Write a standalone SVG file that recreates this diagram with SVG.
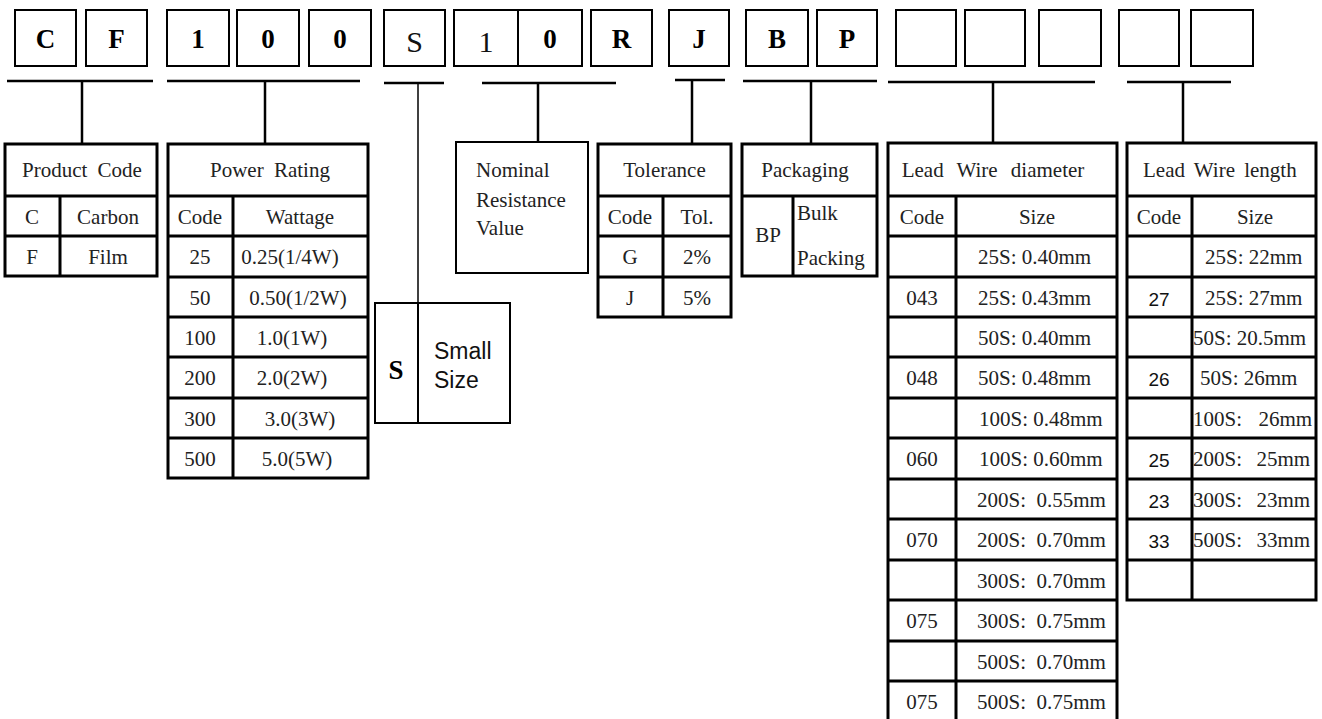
<svg xmlns="http://www.w3.org/2000/svg" width="1322" height="719" viewBox="0 0 1322 719">
<style>
.box{fill:#fff;stroke:#000;stroke-width:2}
.tb{fill:#fff;stroke:#000;stroke-width:3}
.ln{stroke:#000;stroke-width:3;fill:none}
.cn{stroke:#000;stroke-width:2.5;fill:none}
.big{font-family:"Liberation Serif",serif;font-size:27px;font-weight:bold;text-anchor:middle;fill:#000}
.bign{font-family:"Liberation Serif",serif;font-size:30px;text-anchor:middle;fill:#111}
.t{font-family:"Liberation Serif",serif;font-size:21px;fill:#222;white-space:pre}
.c{text-anchor:middle}
.s{font-family:"Liberation Sans",sans-serif;font-size:19px;fill:#111;text-anchor:middle}
.sm{font-family:"Liberation Sans",sans-serif;font-size:23px;fill:#111}
</style>
<rect width="1322" height="719" fill="#fff"/>

<g id="code-boxes">
  <g id="box-C"><rect class="box" x="15" y="10" width="61" height="56"/><text class="big" x="45.5" y="48">C</text></g>
  <g id="box-F"><rect class="box" x="86" y="10" width="61" height="56"/><text class="big" x="116.5" y="48">F</text></g>
  <g id="box-1"><rect class="box" x="167" y="10" width="62" height="56"/><text class="big" x="198" y="48">1</text></g>
  <g id="box-0a"><rect class="box" x="237" y="10" width="62" height="56"/><text class="big" x="268" y="48">0</text></g>
  <g id="box-0b"><rect class="box" x="309" y="10" width="62" height="56"/><text class="big" x="340" y="48">0</text></g>
  <g id="box-S"><rect class="box" x="384" y="10" width="61" height="56"/><text class="bign" x="414.5" y="52">S</text></g>
  <g id="box-10"><rect class="box" x="454" y="10" width="128" height="56"/><line x1="518" y1="10" x2="518" y2="66" stroke="#000" stroke-width="2"/><text class="bign" x="486" y="52">1</text><text class="big" x="550" y="48">0</text></g>
  <g id="box-R"><rect class="box" x="591" y="10" width="61" height="56"/><text class="big" x="621.5" y="48">R</text></g>
  <g id="box-J"><rect class="box" x="669" y="10" width="60" height="56"/><text class="big" x="699" y="48">J</text></g>
  <g id="box-B"><rect class="box" x="746" y="10" width="62" height="56"/><text class="big" x="777" y="48">B</text></g>
  <g id="box-P"><rect class="box" x="817" y="10" width="60" height="56"/><text class="big" x="847" y="48">P</text></g>
  <g id="box-e1"><rect class="box" x="896" y="10" width="60" height="56"/></g>
  <g id="box-e2"><rect class="box" x="965" y="10" width="60" height="56"/></g>
  <g id="box-e3"><rect class="box" x="1039" y="10" width="62" height="56"/></g>
  <g id="box-e4"><rect class="box" x="1119" y="10" width="60" height="56"/></g>
  <g id="box-e5"><rect class="box" x="1191" y="10" width="62" height="56"/></g>
</g>

<g id="connectors">
  <path class="cn" d="M7 81H153M82 81V144"/>
  <path class="cn" d="M167 81H360M265 81V144"/>
  <path class="cn" d="M384 83H444"/>
  <path d="M418 83V303" stroke="#000" stroke-width="1.5"/>
  <path class="cn" d="M482 83H616M538 83V142"/>
  <path class="cn" d="M675 80H725M692 80V144"/>
  <path class="cn" d="M743 81H877M811 81V144"/>
  <path class="cn" d="M888 82H1095M993 82V143"/>
  <path class="cn" d="M1127 82H1231M1183 82V143"/>
</g>

<g id="product-code">
  <rect class="tb" x="5" y="144" width="152" height="132"/>
  <path class="ln" d="M5 196H157M5 236H157M60 196V276"/>
  <text class="t" x="22" y="177" word-spacing="5">Product Code</text>
  <text class="t c" x="32" y="224">C</text><text class="t c" x="108" y="224">Carbon</text>
  <text class="t c" x="32" y="264">F</text><text class="t c" x="108" y="264">Film</text>
</g>

<g id="power-rating">
  <rect class="tb" x="168" y="144" width="200" height="334"/>
  <path class="ln" d="M168 196H368M168 236H368M168 277H368M168 317H368M168 357H368M168 398H368M168 438H368M233 196V478"/>
  <text class="t" x="210" y="177" word-spacing="5">Power Rating</text>
  <text class="t c" x="200" y="224">Code</text><text class="t c" x="300" y="224">Wattage</text>
  <text class="t c" x="200" y="264">25</text><text class="t c" x="290" y="264">0.25(1/4W)</text>
  <text class="t c" x="200" y="305">50</text><text class="t c" x="298" y="305">0.50(1/2W)</text>
  <text class="t c" x="200" y="345">100</text><text class="t c" x="292" y="345">1.0(1W)</text>
  <text class="t c" x="200" y="385">200</text><text class="t c" x="292" y="385">2.0(2W)</text>
  <text class="t c" x="200" y="426">300</text><text class="t c" x="300" y="426">3.0(3W)</text>
  <text class="t c" x="200" y="466">500</text><text class="t c" x="297" y="466">5.0(5W)</text>
</g>

<g id="small-size">
  <rect class="box" x="375" y="303" width="135" height="120"/>
  <line x1="418" y1="303" x2="418" y2="423" stroke="#000" stroke-width="2"/>
  <text class="big" x="396" y="379">S</text>
  <text class="sm" x="434" y="359">Small</text>
  <text class="sm" x="434" y="388">Size</text>
</g>

<g id="nominal-resistance">
  <rect class="box" x="456" y="142" width="132" height="131"/>
  <text class="t" x="476" y="177">Nominal</text>
  <text class="t" x="476" y="207">Resistance</text>
  <text class="t" x="476" y="235">Value</text>
</g>

<g id="tolerance">
  <rect class="tb" x="598" y="144" width="133" height="173"/>
  <path class="ln" d="M598 196H731M598 236H731M598 277H731M663 196V317"/>
  <text class="t c" x="664.5" y="177">Tolerance</text>
  <text class="t c" x="630" y="224">Code</text><text class="t c" x="697" y="224">Tol.</text>
  <text class="t c" x="630" y="264">G</text><text class="t c" x="697" y="264">2%</text>
  <text class="t c" x="630" y="305">J</text><text class="t c" x="697" y="305">5%</text>
</g>

<g id="packaging">
  <rect class="tb" x="742" y="144" width="135" height="132"/>
  <path class="ln" d="M742 196H877M793 196V276"/>
  <text class="t c" x="805" y="177">Packaging</text>
  <text class="t c" x="768" y="242">BP</text>
  <text class="t" x="797" y="220">Bulk</text>
  <text class="t" x="797" y="265">Packing</text>
</g>

<g id="lead-wire-diameter">
  <rect class="tb" x="888" y="143" width="229" height="579"/>
  <path class="ln" d="M888 196H1117M888 236H1117M888 277H1117M888 317H1117M888 357H1117M888 398H1117M888 438H1117M888 479H1117M888 519H1117M888 560H1117M888 600H1117M888 641H1117M888 681H1117M956 196V722"/>
  <text class="t c" x="993" y="177" word-spacing="8">Lead Wire diameter</text>
  <text class="t c" x="922" y="224">Code</text><text class="t c" x="1037" y="224">Size</text>
  <text class="t" x="978" y="264">25S: 0.40mm</text>
  <text class="t c" x="922" y="305">043</text><text class="t" x="978" y="305">25S: 0.43mm</text>
  <text class="t" x="978" y="345">50S: 0.40mm</text>
  <text class="t c" x="922" y="385">048</text><text class="t" x="978" y="385">50S: 0.48mm</text>
  <text class="t" x="979" y="426">100S: 0.48mm</text>
  <text class="t c" x="922" y="466">060</text><text class="t" x="979" y="466">100S: 0.60mm</text>
  <text class="t" x="977" y="507">200S:  0.55mm</text>
  <text class="t c" x="922" y="547">070</text><text class="t" x="977" y="547">200S:  0.70mm</text>
  <text class="t" x="977" y="588">300S:  0.70mm</text>
  <text class="t c" x="922" y="628">075</text><text class="t" x="977" y="628">300S:  0.75mm</text>
  <text class="t" x="977" y="669">500S:  0.70mm</text>
  <text class="t c" x="922" y="709">075</text><text class="t" x="977" y="709">500S:  0.75mm</text>
</g>

<g id="lead-wire-length">
  <rect class="tb" x="1127" y="143" width="189" height="457"/>
  <path class="ln" d="M1127 196H1316M1127 236H1316M1127 277H1316M1127 317H1316M1127 357H1316M1127 398H1316M1127 438H1316M1127 479H1316M1127 519H1316M1127 560H1316M1192 196V600"/>
  <text class="t" x="1143" y="177" word-spacing="4">Lead Wire length</text>
  <text class="t c" x="1159" y="224">Code</text><text class="t c" x="1255" y="224">Size</text>
  <text class="t" x="1205" y="264">25S: 22mm</text>
  <text class="s" x="1159" y="306">27</text><text class="t" x="1205" y="305">25S: 27mm</text>
  <text class="t" x="1193" y="345">50S: 20.5mm</text>
  <text class="s" x="1159" y="386">26</text><text class="t" x="1200" y="385">50S: 26mm</text>
  <text class="t" x="1193" y="426" word-spacing="3">100S:  26mm</text>
  <text class="s" x="1159" y="467">25</text><text class="t" x="1193" y="466" word-spacing="2">200S:  25mm</text>
  <text class="s" x="1159" y="508">23</text><text class="t" x="1193" y="507" word-spacing="2">300S:  23mm</text>
  <text class="s" x="1159" y="548">33</text><text class="t" x="1193" y="547" word-spacing="2">500S:  33mm</text>
</g>
</svg>
